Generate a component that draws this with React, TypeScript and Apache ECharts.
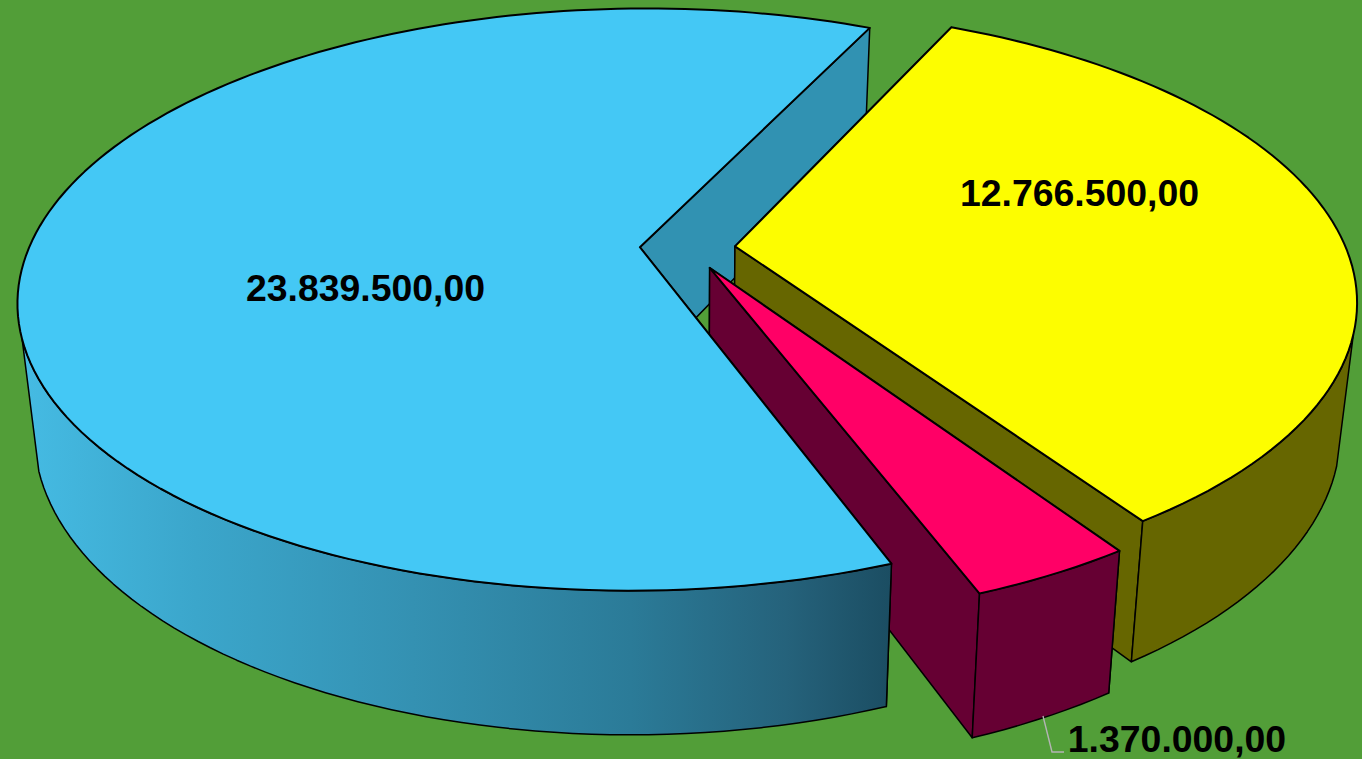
import React, { useEffect, useRef } from "react";
import * as echarts from "echarts";

const categories = ["A", "B", "C"];
const values = [23839500, 1370000, 12766500];
const valueLabels = ["23.839.500,00", "1.370.000,00", "12.766.500,00"];
const topColors = ["#44c8f5", "#ff0066", "#fdfd00"];
const wallColors = ["#3192b2", "#660033", "#666600"];
const startAngle = 64.85;

const BG = "#529e38";
const CX = 687.5, CY = 248;
const A = 611, B = 282, K = 0.18;
const EXPLODE = 0.078;
const SX = 0.975;
const FRONT_V = 0.29;

const total = values.reduce((s, v) => s + v, 0);
const rad = (d: number) => (d * Math.PI) / 180;

type Slice = { a0: number; a1: number; eu: number; ev: number };
let acc = startAngle;
const slices: Slice[] = values.map((v) => {
  const a0 = acc;
  const a1 = acc + (v / total) * 360;
  acc = a1;
  const mid = rad((a0 + a1) / 2);
  return { a0, a1, eu: EXPLODE * Math.cos(mid), ev: -EXPLODE * Math.sin(mid) };
});

const project = (u: number, v: number): number[] => {
  const w = 1 - K * v;
  return [CX + (A * u) / w, CY + (B * v) / w];
};
const lower = (p: number[]): number[] => {
  const depth = 127 + 0.05 * (p[1] - CY);
  return [CX + (p[0] - CX) * SX, p[1] + depth];
};
const rim = (s: Slice, deg: number): number[] =>
  project(s.eu + Math.cos(rad(deg)), s.ev - Math.sin(rad(deg)));
const apex = (s: Slice): number[] => project(s.eu, s.ev);
const arc = (s: Slice, frontOnly: boolean): number[][] => {
  const out: number[][] = [];
  const n = Math.max(8, Math.round((s.a1 - s.a0) / 1.5));
  for (let i = 0; i <= n; i++) {
    const d = s.a0 + ((s.a1 - s.a0) * i) / n;
    if (frontOnly && s.ev - Math.sin(rad(d)) < FRONT_V) continue;
    out.push(rim(s, d));
  }
  return out;
};

const blueGradient = () =>
  new echarts.graphic.LinearGradient(0, 0, 1, 0, [
    { offset: 0, color: "#45bbe3" },
    { offset: 0.2, color: "#3ba6cb" },
    { offset: 0.45, color: "#3491b2" },
    { offset: 0.7, color: "#2b7b98" },
    { offset: 0.88, color: "#25627b" },
    { offset: 1, color: "#1b4d62" },
  ]);

// Painter's order: slice index + face kind
const faces: [number, string][] = [
  [0, "startWall"],
  [2, "endWall"],
  [2, "startWall"],
  [2, "outer"],
  [2, "top"],
  [1, "endWall"],
  [1, "startWall"],
  [1, "outer"],
  [1, "top"],
  [0, "endWall"],
  [0, "outer"],
  [0, "top"],
];

const facePoints = (sliceIdx: number, kind: string): number[][] => {
  const s = slices[sliceIdx];
  if (kind === "top") return [apex(s), ...arc(s, false)];
  if (kind === "outer") {
    const a = arc(s, true);
    return [...a, ...a.map(lower).reverse()];
  }
  const p = apex(s);
  const r = rim(s, kind === "startWall" ? s.a0 : s.a1);
  return [p, r, lower(r), lower(p)];
};

const labelLayout = [
  { x: 365.5, y: 288 },
  { x: 1177, y: 739 },
  { x: 1079.5, y: 193 },
];
const leader = [
  [1043, 716],
  [1052, 752],
  [1064, 752],
];

export default function App() {
  const ref = useRef<HTMLDivElement>(null);
  useEffect(() => {
    const chart = echarts.init(ref.current!, undefined, { renderer: "svg" });
    chart.setOption({
      animation: false,
      backgroundColor: BG,
      series: [
        {
          type: "custom",
          coordinateSystem: "none",
          silent: true,
          data: faces.map((f, i) => [i, f[0]]),
          renderItem: (params: any) => {
            const [si, kind] = faces[params.dataIndex];
            const isOuterBlue = si === 0 && kind === "outer";
            return {
              type: "polygon",
              shape: { points: facePoints(si, kind) },
              style: {
                fill: kind === "top" ? topColors[si] : isOuterBlue ? blueGradient() : wallColors[si],
                stroke: "#000000",
                lineWidth: kind === "top" ? 2 : 1.5,
                lineJoin: "round",
              },
            };
          },
        },
        {
          type: "custom",
          coordinateSystem: "none",
          silent: true,
          z: 5,
          data: categories.map((_, i) => [i]),
          renderItem: (params: any) => {
            const i = params.dataIndex;
            const children: any[] = [
              {
                type: "text",
                style: {
                  text: valueLabels[i],
                  x: labelLayout[i].x,
                  y: labelLayout[i].y,
                  align: "center",
                  verticalAlign: "middle",
                  fill: "#000000",
                  font: 'bold 37.4px "Liberation Sans", Arial, sans-serif',
                },
              },
            ];
            if (i === 1) {
              children.push({
                type: "polyline",
                shape: { points: leader },
                style: { stroke: "#b4b4b4", lineWidth: 1.4, fill: "none" },
              });
            }
            return { type: "group", children };
          },
        },
      ],
    });
    return () => chart.dispose();
  }, []);
  return (
    <div
      ref={ref}
      style={{ position: "absolute", left: 0, top: 0, width: 1362, height: 759 }}
    />
  );
}
